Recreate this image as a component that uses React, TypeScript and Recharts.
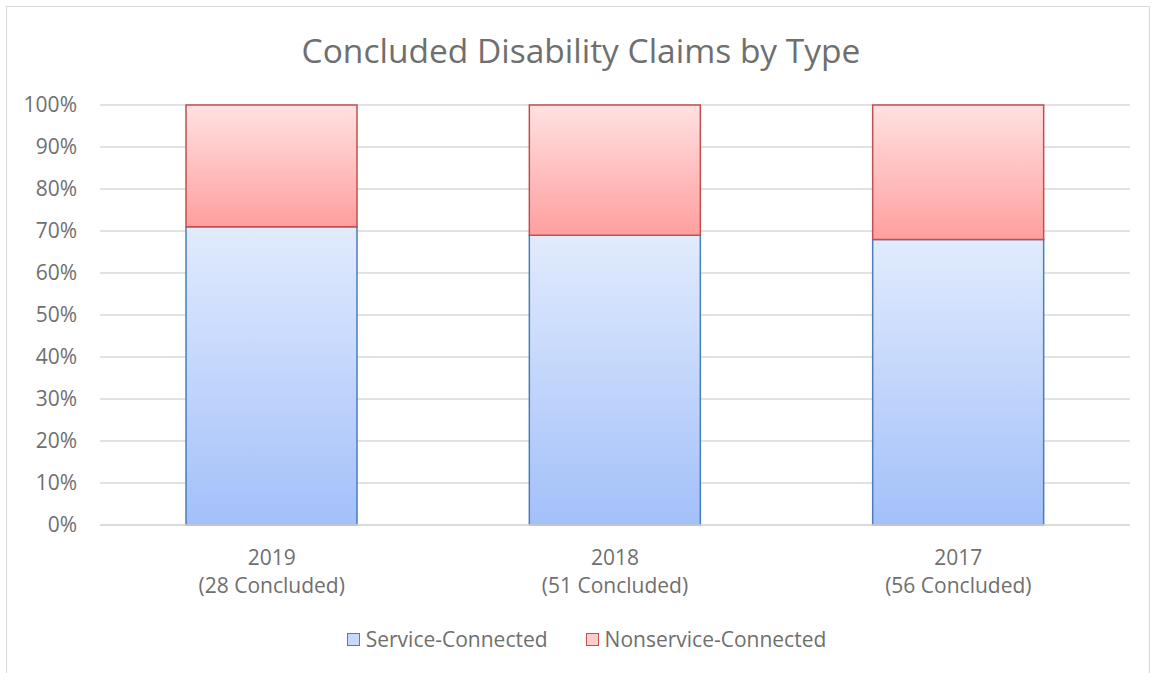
import { Bar, BarChart, CartesianGrid, Legend, XAxis, YAxis } from "recharts"

const years = ["2019", "2018", "2017"]
const concluded = [28, 51, 56]
const serviceConnected = [71, 69, 68]
const nonserviceConnected = [29, 31, 32]
const yTicks = [0, 10, 20, 30, 40, 50, 60, 70, 80, 90, 100]

const data = years.map((year, i) => ({
  year,
  concluded: concluded[i],
  service: serviceConnected[i],
  nonservice: nonserviceConnected[i],
}))

const font = "'Open Sans', sans-serif"
const textColor = "#6f6f6f"

function YearTick({ x, y, payload, index }: any) {
  return (
    <g transform={`translate(${x},${y})`}>
      <text textAnchor="middle" fill={textColor} fontSize={21} fontFamily={font}>
        <tspan x={0} dy={32}>{payload.value}</tspan>
        <tspan x={0} dy={28}>({data[index]?.concluded} Concluded)</tspan>
      </text>
    </g>
  )
}

function LegendBox() {
  const items = [
    { label: "Service-Connected", fill: "#c6d9fc", stroke: "#4a7ebb" },
    { label: "Nonservice-Connected", fill: "#ffcccc", stroke: "#c0504d" },
  ]
  return (
    <div style={{ display: "flex", justifyContent: "center", gap: 38, fontFamily: font, fontSize: 21, color: textColor, paddingTop: 18, paddingLeft: 36 }}>
      {items.map((it) => (
        <div key={it.label} style={{ display: "flex", alignItems: "center", gap: 6 }}>
          <span style={{ width: 11, height: 11, background: it.fill, border: `1.5px solid ${it.stroke}`, display: "inline-block" }} />
          {it.label}
        </div>
      ))}
    </div>
  )
}

export default function App() {
  return (
    <div style={{ position: "absolute", left: 6, top: 6, width: 1142, height: 668, border: "1px solid #d9d9d9", background: "#fff" }}>
      <div style={{ position: "absolute", left: 6, right: 0, top: 20, textAlign: "center", fontFamily: font, fontSize: 33.5, color: textColor }}>
        Concluded Disability Claims by Type
      </div>
      <BarChart width={1140} height={660} data={data} margin={{ top: 98, right: 17, left: 0, bottom: 0 }} barSize={171}>
        <defs>
          <linearGradient id="gradService" x1="0" y1="0" x2="0" y2="1">
            <stop offset="0%" stopColor="#e1ebfd" />
            <stop offset="100%" stopColor="#a3c0fa" />
          </linearGradient>
          <linearGradient id="gradNon" x1="0" y1="0" x2="0" y2="1">
            <stop offset="0%" stopColor="#ffe1e1" />
            <stop offset="100%" stopColor="#ff9f9f" />
          </linearGradient>
        </defs>
        <CartesianGrid vertical={false} stroke="#d9d9d9" strokeWidth={1.5} />
        <XAxis dataKey="year" height={82} axisLine={{ stroke: "#d9d9d9", strokeWidth: 1.5 }} tickLine={false} tick={<YearTick />} interval={0} />
        <YAxis
          width={93}
          domain={[0, 100]}
          ticks={yTicks}
          tickFormatter={(v) => `${v}%`}
          axisLine={false}
          tickLine={false}
          tickSize={0}
          tickMargin={23}
          tick={{ fill: textColor, fontSize: 21, fontFamily: font }}
        />
        <Legend verticalAlign="bottom" height={60} content={<LegendBox />} />
        <Bar dataKey="service" name="Service-Connected" stackId="a" fill="url(#gradService)" stroke="#4a7ebb" strokeWidth={1.5} isAnimationActive={false} />
        <Bar dataKey="nonservice" name="Nonservice-Connected" stackId="a" fill="url(#gradNon)" stroke="#c0504d" strokeWidth={1.5} isAnimationActive={false} />
      </BarChart>
    </div>
  )
}
